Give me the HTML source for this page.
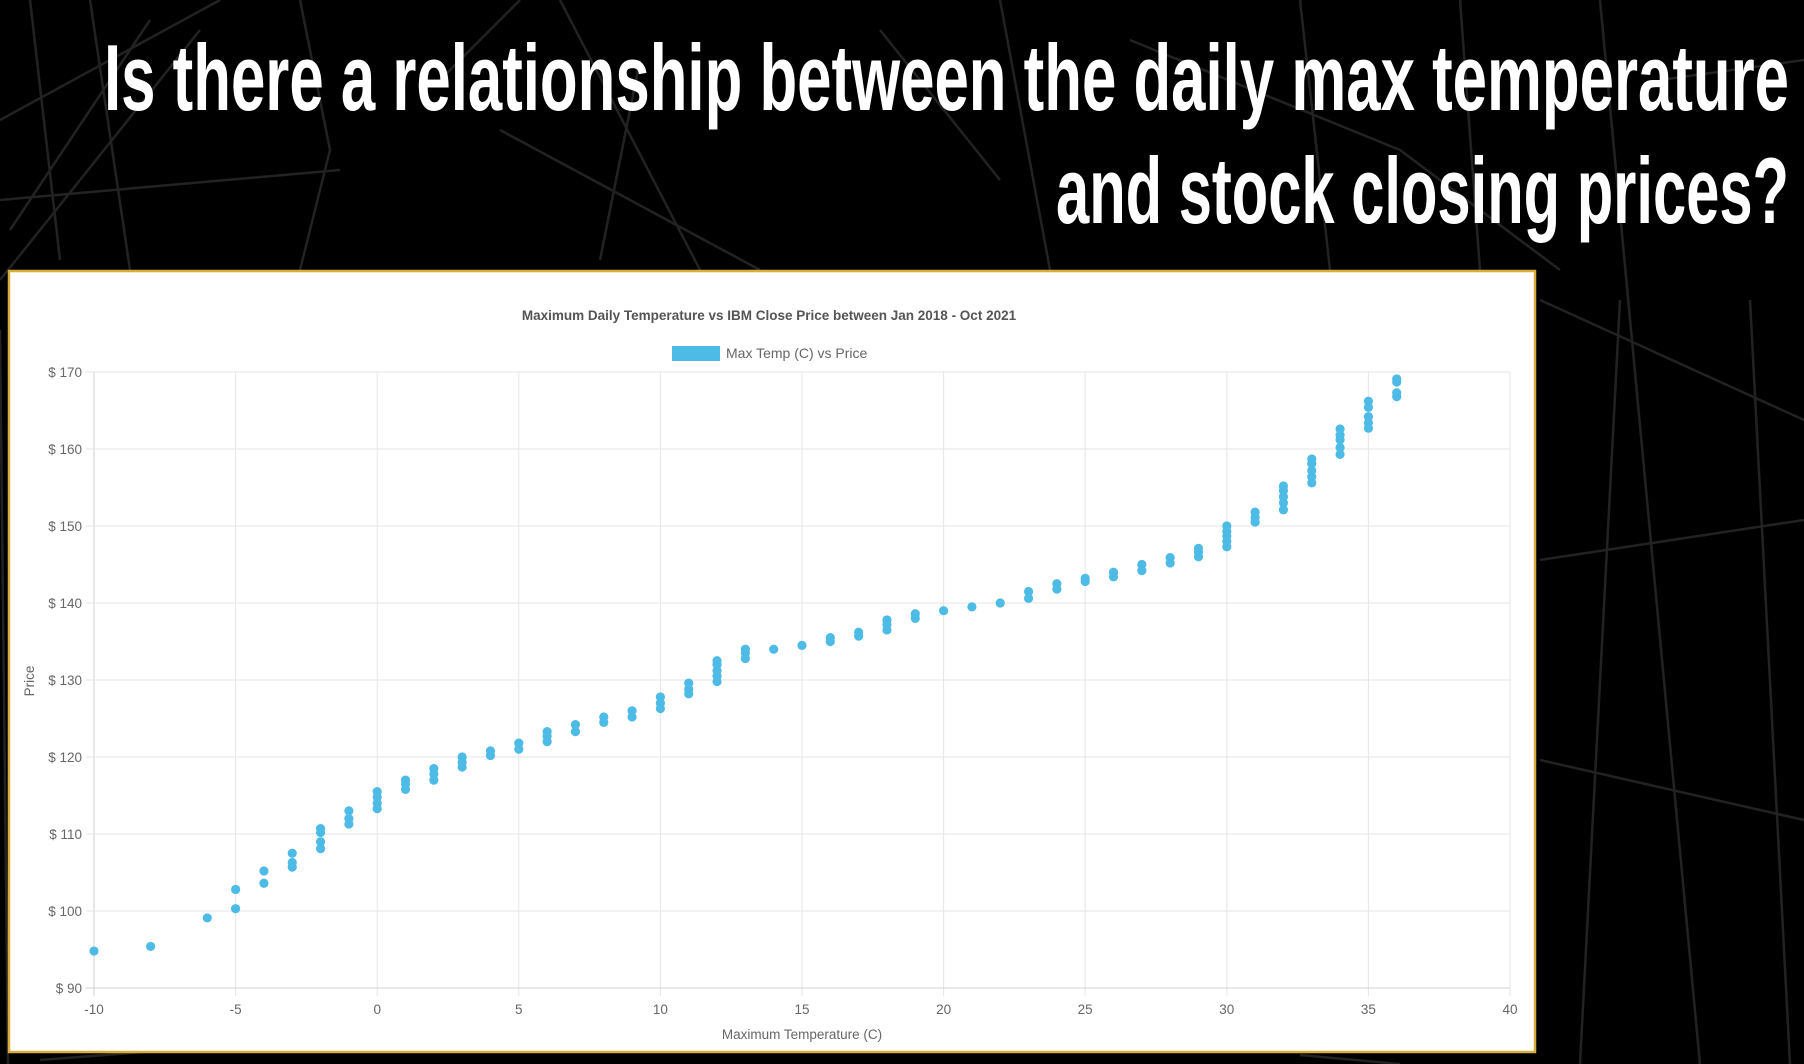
<!DOCTYPE html>
<html><head><meta charset="utf-8"><title>Max Temp vs IBM Price</title>
<style>
html,body{margin:0;padding:0;background:#000;width:1804px;height:1064px;overflow:hidden;}
svg{display:block;}
</style></head>
<body>
<svg id="root" width="1804" height="1064" viewBox="0 0 1804 1064" xmlns="http://www.w3.org/2000/svg">
  <rect x="0" y="0" width="1804" height="1064" fill="#000"/>
  <g stroke="#222" stroke-width="2.5" fill="none">
    <path d="M0 120 L220 0 M30 0 L60 260 M90 0 L130 270 M150 20 L10 230 M200 30 L0 280 M300 0 L330 150 L300 270 M0 200 L340 170"/>
    <path d="M440 80 L520 0 M500 130 L760 270 M560 0 L700 270 M640 60 L600 260 M880 30 L1000 180 M1000 0 L1050 270"/>
    <path d="M1130 40 L1400 150 L1560 270 M1300 0 L1330 270 M1460 0 L1480 270 M1600 0 L1700 1064 M1660 80 L1804 60 M1540 300 L1804 420 M1540 560 L1804 520 M1540 760 L1804 820 M1620 300 L1580 1064 M1750 300 L1790 1064"/>
    <path d="M0 330 L8 1064 M40 1060 L300 1040 M1300 1055 L1400 1064"/>
  </g>
  <text x="104" y="110" textLength="1685" lengthAdjust="spacingAndGlyphs" fill="#fff" font-family="'Liberation Sans Narrow','Liberation Sans',sans-serif" font-weight="bold" font-size="94">Is there a relationship between the daily max temperature</text>
  <text x="1056" y="223" textLength="733" lengthAdjust="spacingAndGlyphs" fill="#fff" font-family="'Liberation Sans Narrow','Liberation Sans',sans-serif" font-weight="bold" font-size="94">and stock closing prices?</text>

  <rect x="9" y="271" width="1526" height="781" fill="#fff" stroke="#d9ad3c" stroke-width="2.5"/>
  <text x="769" y="320" text-anchor="middle" fill="#555" font-family="'Liberation Sans',sans-serif" font-weight="bold" font-size="13.5">Maximum Daily Temperature vs IBM Close Price between Jan 2018 - Oct 2021</text>
  <rect x="672" y="346" width="48" height="15" fill="#4dbbe6"/>
  <text x="726" y="358" fill="#666" font-family="'Liberation Sans',sans-serif" font-size="14">Max Temp (C) vs Price</text>
  <g id="grid"></g>
  <g id="marks"></g>
  <text transform="translate(34,681) rotate(-90)" text-anchor="middle" fill="#666" font-family="'Liberation Sans',sans-serif" font-size="13.5">Price</text>
  <text x="802" y="1039" text-anchor="middle" fill="#666" font-family="'Liberation Sans',sans-serif" font-size="13.5">Maximum Temperature (C)</text>
</svg>
<script>
const xTicks = [-10,-5,0,5,10,15,20,25,30,35,40];
const yTicks = [90,100,110,120,130,140,150,160,170];
const temps = [-10,-8,-6,-5,-5,-4,-4,-3,-3,-3,-2,-2,-2,-2,-1,-1,-1,0,0,0,0,1,1,1,2,2,2,3,3,3,4,4,5,5,6,6,6,7,7,8,8,9,9,10,10,10,11,11,11,12,12,12,12,12,13,13,13,14,15,16,16,17,17,18,18,18,19,19,20,21,22,23,23,24,24,25,25,26,26,27,27,28,28,29,29,29,30,30,30,30,30,31,31,31,32,32,32,32,32,33,33,33,33,33,34,34,34,34,34,35,35,35,35,35,36,36,36,36];
const prices = [94.8,95.4,99.1,100.3,102.8,103.6,105.2,105.7,106.3,107.5,108.1,109,110.2,110.7,111.3,112,113,113.3,114,114.8,115.5,115.8,116.5,117,117,117.8,118.5,118.7,119.3,120,120.2,120.8,121,121.8,122,122.7,123.3,123.3,124.2,124.5,125.2,125.2,126,126.3,127,127.8,128.2,128.8,129.6,129.8,130.5,131.2,132,132.5,132.8,133.5,134,134,134.5,135,135.5,135.7,136.2,136.5,137.2,137.8,138,138.6,139,139.5,140,140.6,141.5,141.8,142.5,142.8,143.2,143.4,144,144.2,145,145.2,145.9,146,146.6,147.1,147.3,148,148.7,149.3,150,150.5,151.1,151.8,152.1,153,153.8,154.6,155.2,155.6,156.4,157.2,158.1,158.7,159.3,160.2,161.2,161.8,162.6,162.7,163.4,164.2,165.4,166.2,166.8,167.3,168.7,169.1];

const X0=94, X1=1510, Y0=988, Y1=372;
const xMin=-10, xMax=40, yMin=90, yMax=170;
function xScale(v){return X0+(v-xMin)/(xMax-xMin)*(X1-X0);}
function yScale(v){return Y0-(v-yMin)/(yMax-yMin)*(Y0-Y1);}
const NS="http://www.w3.org/2000/svg";
const grid=document.getElementById('grid');
const marks=document.getElementById('marks');
function mk(tag,attrs,parent){const e=document.createElementNS(NS,tag);for(const k in attrs)e.setAttribute(k,attrs[k]);parent.appendChild(e);return e;}

xTicks.forEach(t=>{
  const x=xScale(t);
  const l=mk('line',{x1:x,y1:Y1,x2:x,y2:Y0+8,stroke:(t===xMin?'#d0d0d0':'#e6e6e6'),'stroke-width':1},grid);
  
  
  const tx=mk('text',{x:x,y:1014,'text-anchor':'middle',fill:'#666','font-family':"'Liberation Sans',sans-serif",'font-size':13.5},grid);
  tx.textContent=String(t);
  
  
});
yTicks.forEach(t=>{
  const y=yScale(t);
  const l=mk('line',{x1:X0-8,y1:y,x2:X1,y2:y,stroke:(t===yMin?'#d0d0d0':'#e6e6e6'),'stroke-width':1},grid);
  
  
  const tx=mk('text',{x:82,y:y+5,'text-anchor':'end',fill:'#666','font-family':"'Liberation Sans',sans-serif",'font-size':13.5},grid);
  tx.textContent='$ '+t;
  
  
});
temps.forEach((t,i)=>{
  const c=mk('circle',{cx:xScale(t),cy:yScale(prices[i]),r:4.6,fill:'#4dbbe6'},marks);
  
  
});
</script>
</body></html>
